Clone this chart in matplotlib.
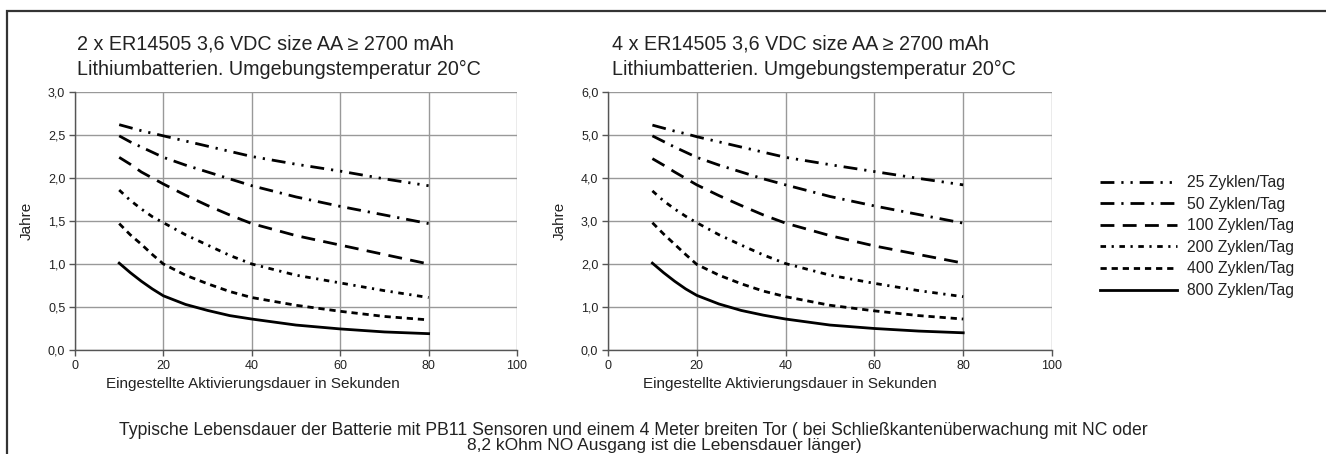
import matplotlib
matplotlib.use("Agg")
from matplotlib import pyplot as plt
from matplotlib.ticker import FuncFormatter, MultipleLocator
from matplotlib.lines import Line2D
from matplotlib.patches import Rectangle

plt.rcParams['font.family'] = ['Liberation Sans', 'DejaVu Sans']
plt.rcParams['lines.scale_dashes'] = False

W, H = 1326, 454

# activation time in seconds
secs = [10, 12.5, 15, 17.5, 20, 25, 30, 35, 40, 50, 60, 70, 80]

# years, 2 x ER14505
left_25 = [2.62, 2.585, 2.55, 2.52, 2.49, 2.43, 2.37, 2.31, 2.25, 2.16, 2.08, 1.99, 1.91]
left_50 = [2.49, 2.42, 2.36, 2.30, 2.24, 2.15, 2.07, 1.99, 1.91, 1.78, 1.67, 1.57, 1.47]
left_100 = [2.24, 2.16, 2.07, 2.00, 1.93, 1.80, 1.68, 1.57, 1.47, 1.33, 1.22, 1.11, 1.00]
left_200 = [1.86, 1.74, 1.64, 1.55, 1.48, 1.34, 1.22, 1.10, 1.00, 0.87, 0.78, 0.69, 0.61]
left_400 = [1.47, 1.34, 1.23, 1.11, 1.00, 0.87, 0.77, 0.68, 0.61, 0.52, 0.45, 0.39, 0.35]
left_800 = [1.01, 0.90, 0.80, 0.71, 0.63, 0.53, 0.46, 0.40, 0.36, 0.29, 0.245, 0.21, 0.19]

# years, 4 x ER14505
right_25 = [5.23, 5.16, 5.09, 5.03, 4.96, 4.84, 4.72, 4.60, 4.48, 4.31, 4.15, 3.99, 3.84]
right_50 = [4.98, 4.85, 4.72, 4.60, 4.48, 4.30, 4.14, 3.98, 3.84, 3.57, 3.35, 3.15, 2.95]
right_100 = [4.45, 4.30, 4.14, 3.99, 3.84, 3.59, 3.36, 3.14, 2.95, 2.66, 2.42, 2.22, 2.02]
right_200 = [3.70, 3.47, 3.28, 3.11, 2.96, 2.68, 2.44, 2.21, 2.01, 1.74, 1.55, 1.38, 1.24]
right_400 = [2.96, 2.70, 2.46, 2.22, 1.99, 1.74, 1.54, 1.37, 1.24, 1.04, 0.91, 0.80, 0.72]
right_800 = [2.02, 1.80, 1.60, 1.42, 1.27, 1.07, 0.92, 0.81, 0.72, 0.58, 0.50, 0.44, 0.40]

labels = ["25 Zyklen/Tag", "50 Zyklen/Tag", "100 Zyklen/Tag",
          "200 Zyklen/Tag", "400 Zyklen/Tag", "800 Zyklen/Tag"]
styles = [(0, (10, 5, 1.6, 5, 1.6, 5)),
          (0, (10, 5, 1.6, 5)),
          (0, (10, 6)),
          (0, (4, 4, 1.6, 4)),
          (0, (4.5, 3.5)),
          '-']

TXT = '#222222'


def px_axes(x0, y0, x1, y1):
  return fig.add_axes([x0 / W, 1 - y1 / H, (x1 - x0) / W, (y1 - y0) / H])


def comma(v, pos):
  return ("%.1f" % v).replace('.', ',')


def setup(ax, ymax, ystep):
  ax.set_xlim(0, 100)
  ax.set_ylim(0, ymax)
  ax.xaxis.set_major_locator(MultipleLocator(20))
  ax.yaxis.set_major_locator(MultipleLocator(ystep))
  ax.yaxis.set_major_formatter(FuncFormatter(comma))
  ax.grid(True, color='#999999', linewidth=1)
  ax.set_axisbelow(True)
  for s in ['top', 'right']:
    ax.spines[s].set_visible(False)
  for s in ['left', 'bottom']:
    ax.spines[s].set_color('#555555')
    ax.spines[s].set_linewidth(1)
  ax.tick_params(length=4, width=1, color='#555555', labelsize=9,
                 labelcolor=TXT, pad=3)
  ax.set_ylabel("Jahre", fontsize=11, color=TXT, labelpad=10)


fig = plt.figure(figsize=(W / 100, H / 100), dpi=100)

# outer frame (only top and left edges visible)
fig.patches.append(Rectangle((7 / W, -0.1), 1.2, 1 - 11 / H + 0.1,
                             transform=fig.transFigure, fill=False,
                             edgecolor='#333333', linewidth=1.6))

ax1 = px_axes(75, 92, 517, 350)
ax2 = px_axes(608, 92, 1052, 350)
setup(ax1, 3.0, 0.5)
setup(ax2, 6.0, 1.0)

for ys, st in zip([left_25, left_50, left_100, left_200, left_400, left_800], styles):
  ax1.plot(secs, ys, color='black', linewidth=2, linestyle=st)
for ys, st in zip([right_25, right_50, right_100, right_200, right_400, right_800], styles):
  ax2.plot(secs, ys, color='black', linewidth=2, linestyle=st)

xl = "Eingestellte Aktivierungsdauer in Sekunden"
fig.text(253 / W, 1 - 388 / H, xl, ha='center', va='baseline', fontsize=11, color=TXT)
fig.text(790 / W, 1 - 388 / H, xl, ha='center', va='baseline', fontsize=11, color=TXT)

for x0, n in [(77, "2"), (612, "4")]:
  fig.text(x0 / W, 1 - 50 / H, n + " x ER14505 3,6 VDC size AA \u2265 2700 mAh",
           ha='left', va='baseline', fontsize=14.2, color=TXT)
  fig.text(x0 / W, 1 - 75 / H, "Lithiumbatterien. Umgebungstemperatur 20\u00b0C",
           ha='left', va='baseline', fontsize=14.2, color=TXT)

handles = [Line2D([], [], color='black', linewidth=2, linestyle=st) for st in styles]
fig.legend(handles, labels, loc='upper left', bbox_to_anchor=(1086 / W, 1 - 161 / H),
           frameon=False, fontsize=11.3, handlelength=4.9, handletextpad=0.62,
           labelspacing=0.42, labelcolor=TXT)

fig.text(633 / W, 1 - 435 / H,
         "Typische Lebensdauer der Batterie mit PB11 Sensoren und einem 4 Meter breiten Tor "
         "( bei Schlie\u00dfkanten\u00fcberwachung mit NC oder",
         ha='center', va='baseline', fontsize=12.7, color=TXT)
fig.text(664 / W, 1 - 450 / H, "8,2 kOhm NO Ausgang ist die Lebensdauer l\u00e4nger)",
         ha='center', va='baseline', fontsize=12.5, color=TXT)

fig.savefig("out.png", dpi=100)
